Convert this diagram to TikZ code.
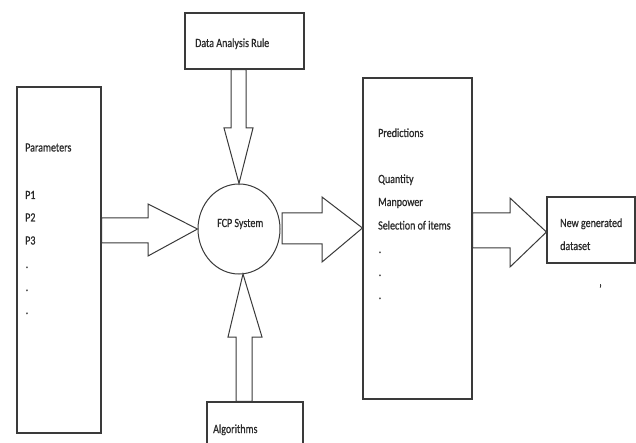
\documentclass[tikz,border=0pt]{standalone}
\usepackage{fontspec}
\setmainfont{Carlito}[FakeStretch=0.8,FakeBold=0.6]
\usetikzlibrary{calc,shapes.geometric}
\definecolor{lineC}{HTML}{3A3A3A}
\definecolor{txtC}{HTML}{2A2A2A}
\tikzset{
  boxnode/.style={draw=lineC, line width=1.1pt, fill=white, rectangle, inner sep=0pt},
  txt/.style={anchor=base west, inner sep=0pt, text=txtC, font=\fontsize{12.5}{14}\selectfont},
  blockarrow/.style={draw=lineC, line width=1pt, fill=white, line join=miter},
}
\begin{document}
\begin{tikzpicture}[x=1pt,y=-1pt]
\useasboundingbox (0,0) rectangle (636,443);
\clip (0,0) rectangle (636,443);
\fill[white] (0,0) rectangle (636,443);

% boxes
\node[boxnode, minimum width=119pt, minimum height=56pt] (dar) at (244.5,41) {};
\node[boxnode, minimum width=84pt, minimum height=346pt] (par) at (59,260) {};
\node[boxnode, minimum width=109pt, minimum height=321pt] (pred) at (417.5,238.5) {};
\node[boxnode, minimum width=88pt, minimum height=66pt] (ngd) at (591,230) {};
\node[boxnode, minimum width=96pt, minimum height=70pt] (alg) at (255,437) {};
\node[draw=lineC, line width=1pt, fill=white, ellipse, minimum width=82pt, minimum height=90pt, inner sep=0pt] (fcp) at (239,229) {};

% block arrows
\draw[blockarrow] (par.east |- 0,218) -- (148,218) -- (148,204) -- (fcp.west) -- (148,256) -- (148,243) -- (par.east |- 0,243) -- cycle;
\draw[blockarrow] (231,0 |- dar.south) -- (231,128) -- (224,128) -- (fcp.north) -- (253,128) -- (246,128) -- (246,0 |- dar.south) -- cycle;
\draw[blockarrow] (236,0 |- alg.north) -- (236,337) -- (228,337) -- (243,274) -- (262,337) -- (252,337) -- (252,0 |- alg.north) -- cycle;
\draw[blockarrow] (282,213) -- (322,213) -- (322,197) -- (pred.west |- 0,228) -- (322,262) -- (322,244) -- (282,244) -- cycle;
\draw[blockarrow] (pred.east |- 0,213) -- (510,213) -- (510,198) -- (ngd.west |- 0,232) -- (510,267) -- (510,248) -- (pred.east |- 0,248) -- cycle;

% texts
\node[txt] (tdar) at (195,47) {Data Analysis Rule};
\node[txt] (tfcp) at (217,227) {FCP System};
\node[txt] (talg) at (213,433) {Algorithms};

\node[txt] (tpar) at (25,151.5) {Parameters};
\node[txt] (tp1) at (25,199) {P1};
\node[txt] (tp2) at (25,221.5) {P2};
\node[txt] (tp3) at (25,244.5) {P3};
\node[txt] (tpd1) at (25.5,268) {.};
\node[txt] (tpd2) at (25.5,291) {.};
\node[txt] (tpd3) at (25.5,314) {.};

\node[txt] (tpred) at (378,137) {Predictions};
\node[txt] (tq) at (378,183) {Quantity};
\node[txt] (tm) at (378,206) {Manpower};
\node[txt] (ts) at (378,229.5) {Selection of items};
\node[txt] (tsd1) at (378.5,253) {.};
\node[txt] (tsd2) at (378.5,276) {.};
\node[txt] (tsd3) at (378.5,299) {.};

\node[txt] (tng1) at (560,227) {New generated};
\node[txt] (tng2) at (560,250) {dataset};

\node[txt] (ttick) at (599,293) {'};
\end{tikzpicture}
\end{document}
